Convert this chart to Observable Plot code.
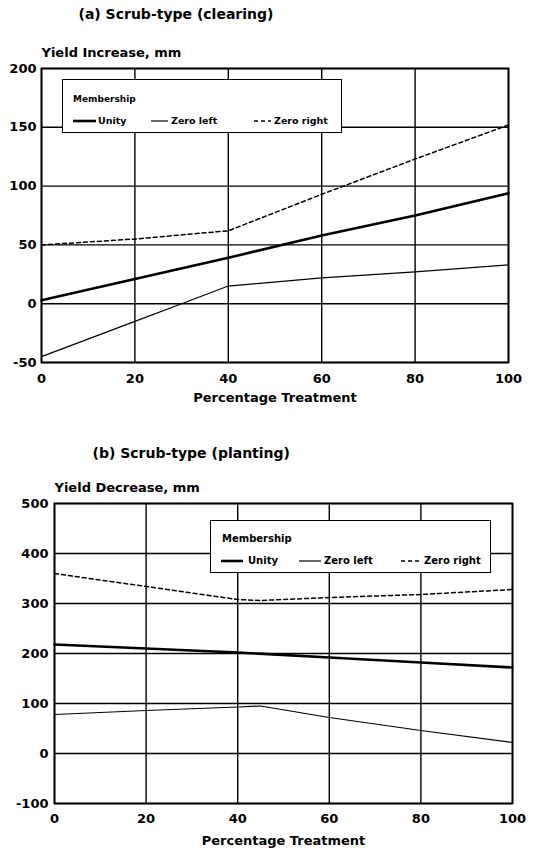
<!DOCTYPE html>
<html>
<head>
<meta charset="utf-8">
<script src="https://cdn.jsdelivr.net/npm/d3@7"></script>
<script src="https://cdn.jsdelivr.net/npm/@observablehq/plot@0.6"></script>
<style>
  body { margin: 0; background: #fff; font-family: 'DejaVu Sans', sans-serif; font-weight: bold; color: #000; }
  .panel { position: relative; width: 543px; }
  .legend { position: absolute; background: #fff; border: 1.5px solid #000; box-sizing: border-box; }
  .legend span { position: absolute; white-space: nowrap; line-height: 1; transform: translateY(-50%); }
  .legend svg { position: absolute; overflow: visible; }
</style>
</head>
<body>
<div id="wrap"></div>
<script>
// ---- tick labels ----
const xTicks = [0, 20, 40, 60, 80, 100];
const yTicksA = [-50, 0, 50, 100, 150, 200];
const yTicksB = [-100, 0, 100, 200, 300, 400, 500];

// ---- texts ----
const titleA = "(a) Scrub-type (clearing)";
const titleB = "(b) Scrub-type (planting)";
const yLabelA = "Yield Increase, mm";
const yLabelB = "Yield Decrease, mm";
const xLabel = "Percentage Treatment";
const seriesNames = ["Unity", "Zero left", "Zero right"];

// ---- panel (a) values ----
const unityPctA = [0, 20, 40, 60, 80, 100];
const unityA = [3, 21, 39, 58, 75, 94];
const zeroLeftPctA = [0, 20, 30, 40, 60, 80, 100];
const zeroLeftA = [-45, -15, 0, 15, 22, 27, 33];
const zeroRightPctA = [0, 20, 40, 60, 80, 100];
const zeroRightA = [50, 55, 62, 93, 123, 152];

// ---- panel (b) values ----
const unityPctB = [0, 20, 40, 60, 80, 100];
const unityB = [218, 210, 202, 192, 182, 172];
const zeroLeftPctB = [0, 20, 40, 45, 60, 80, 100];
const zeroLeftB = [78, 86, 93, 95, 72, 46, 22];
const zeroRightPctB = [0, 20, 40, 45, 60, 80, 100];
const zeroRightB = [360, 334, 308, 306, 312, 318, 328];

function rows(name, xs, ys) { return xs.map((x, i) => ({s: name, x, y: ys[i]})); }

const styles = {
  "Unity": {strokeWidth: 2.6},
  "Zero left": {strokeWidth: 1.2},
  "Zero right": {strokeWidth: 1.5, strokeDasharray: "4,3"}
};

function makePanel(o) {
  const data = [
    ...rows("Unity", o.unity[0], o.unity[1]),
    ...rows("Zero left", o.zl[0], o.zl[1]),
    ...rows("Zero right", o.zr[0], o.zr[1])
  ];
  const grid = {stroke: "#000", strokeOpacity: 1, strokeWidth: 1.4};
  return Plot.plot({
    width: 543, height: o.height,
    marginTop: o.mt, marginLeft: o.ml, marginRight: o.mr, marginBottom: o.mb,
    style: {fontFamily: "'DejaVu Sans', sans-serif", fontWeight: "bold", fontSize: "13px", color: "#000", background: "#fff", overflow: "visible"},
    x: {domain: [0, 100]},
    y: {domain: o.yDomain},
    marks: [
      Plot.gridX(xTicks, grid),
      Plot.gridY(o.yTicks, grid),
      Plot.frame({stroke: "#000", strokeWidth: 1.8}),
      Plot.axisX(xTicks, {tickSize: 0, tickPadding: o.xPad, label: null, fontSize: 13, fontWeight: "bold"}),
      Plot.axisY(o.yTicks, {tickSize: 0, tickPadding: o.yPad, label: null, fontSize: 13, fontWeight: "bold", tickFormat: d => String(d)}),
      ...seriesNames.map(n => Plot.line(data.filter(d => d.s === n), {x: "x", y: "y", stroke: "#000", strokeLinejoin: "round", ...styles[n]})),
      Plot.text([o.title], {text: d => d, frameAnchor: "top-left", textAnchor: "start", lineAnchor: "middle", dx: o.titleDx, dy: o.titleDy, fontSize: 14, fontWeight: "bold"}),
      Plot.text([o.ylabel], {text: d => d, frameAnchor: "top-left", textAnchor: "start", lineAnchor: "middle", dy: o.ylabDy, fontSize: 13, fontWeight: "bold"}),
      Plot.text([xLabel], {text: d => d, frameAnchor: "bottom", lineAnchor: "middle", dy: o.xlabDy, fontSize: 13, fontWeight: "bold"})
    ]
  });
}

function makeLegend(o) {
  const box = document.createElement("div");
  box.className = "legend";
  Object.assign(box.style, {left: o.left + "px", top: o.top + "px", width: o.w + "px", height: o.h + "px"});
  const head = document.createElement("span");
  head.textContent = "Membership";
  Object.assign(head.style, {left: o.pad + "px", top: o.headY + "px", fontSize: o.headSize + "px"});
  box.appendChild(head);
  seriesNames.forEach((n, i) => {
    const [x0, x1, tx] = o.items[i];
    const svg = d3.create("svg").attr("width", x1 - x0).attr("height", 4)
      .style("left", x0 + "px").style("top", (o.rowY - 2) + "px");
    const st = styles[n];
    svg.append("line").attr("x1", 0).attr("x2", x1 - x0).attr("y1", 2).attr("y2", 2)
      .attr("stroke", "#000").attr("stroke-width", st.strokeWidth)
      .attr("stroke-dasharray", st.strokeDasharray || null);
    box.appendChild(svg.node());
    const t = document.createElement("span");
    t.textContent = n;
    Object.assign(t.style, {left: tx + "px", top: o.rowY + "px", fontSize: o.itemSize + "px"});
    box.appendChild(t);
  });
  return box;
}

const wrap = document.getElementById("wrap");

const pa = document.createElement("div");
pa.className = "panel";
pa.appendChild(makePanel({
  height: 430, mt: 68, ml: 41, mr: 35, mb: 68,
  yDomain: [-50, 200], yTicks: yTicksA, xPad: 11, yPad: 5,
  unity: [unityPctA, unityA], zl: [zeroLeftPctA, zeroLeftA], zr: [zeroRightPctA, zeroRightA],
  title: titleA, ylabel: yLabelA, titleDx: 37, titleDy: -54, ylabDy: -16, xlabDy: 35
}));
pa.appendChild(makeLegend({
  left: 62, top: 79, w: 280, h: 54, pad: 10, headY: 19, headSize: 9, rowY: 41, itemSize: 9.5,
  items: [[10, 33, 35], [88, 105, 108], [191, 208, 211]]
}));
wrap.appendChild(pa);

const pb = document.createElement("div");
pb.className = "panel";
pb.appendChild(makePanel({
  height: 421, mt: 73, ml: 54, mr: 31, mb: 48,
  yDomain: [-100, 500], yTicks: yTicksB, xPad: 10, yPad: 6,
  unity: [unityPctB, unityB], zl: [zeroLeftPctB, zeroLeftB], zr: [zeroRightPctB, zeroRightB],
  title: titleB, ylabel: yLabelB, titleDx: 38, titleDy: -50, ylabDy: -16, xlabDy: 37
}));
pb.appendChild(makeLegend({
  left: 210, top: 90, w: 281, h: 53, pad: 11, headY: 18, headSize: 10, rowY: 40, itemSize: 10,
  items: [[10, 32, 37], [88, 110, 113], [190, 210, 213]]
}));
wrap.appendChild(pb);
</script>
</body>
</html>
